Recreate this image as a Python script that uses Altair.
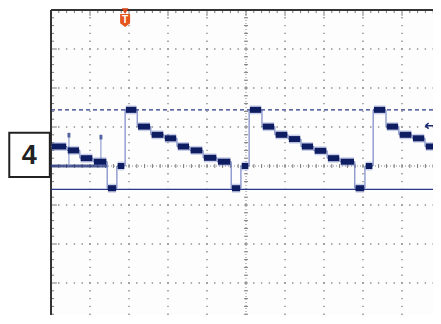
import altair as alt
import pandas as pd

# ---- data (screen units = divisions; 10 x 8 divisions, centre = 0,0) ----
step_t = [-5.00, -4.59, -4.26, -3.92, -3.56, -3.31,
          -3.10, -2.79, -2.44, -2.10, -1.77, -1.44, -1.10, -0.74, -0.38, -0.13,
          0.08, 0.41, 0.74, 1.08, 1.41, 1.74, 2.08, 2.41, 2.79, 3.05,
          3.26, 3.59, 3.92, 4.26, 4.59, 4.92]
step_v = [0.50, 0.40, 0.20, 0.11, -0.57, 0.00,
          1.44, 1.01, 0.80, 0.71, 0.50, 0.40, 0.21, 0.11, -0.57, 0.00,
          1.44, 1.01, 0.80, 0.69, 0.50, 0.39, 0.20, 0.11, -0.57, 0.00,
          1.44, 1.01, 0.80, 0.71, 0.50, 0.40]
t_end = 5.0

ghost_t = [-5.00, -3.56]
ghost_v = 0.0
spike_t = [-4.54, -3.72]
spike_v = [0.85, 0.80]

ref_dashed = 1.44
ref_solid = -0.60
trigger_t = -3.10
trigger_level = 1.03
channel_label = "4"

# visible part of the 10 x 8 division screen (39 px per division)
PX = 39.0
W, H = 382, 305
t_left, t_right = -5.0, -5.0 + W / PX
v_top, v_bottom = 4.0, 4.0 - H / PX

# ---- scales ----
xs = alt.Scale(domain=[t_left, t_right], nice=False, zero=False)
ys = alt.Scale(domain=[v_bottom, v_top], nice=False, zero=False)


def X(f="t"):
    return alt.X(f"{f}:Q", scale=xs, axis=None)


def Y(f="v"):
    return alt.Y(f"{f}:Q", scale=ys, axis=None)


# ---- graticule ----
dots = []
for gx in range(-4, 5):
    if gx == 0:
        continue
    for k in range(-19, 21):
        dots.append({"t": gx, "v": round(k * 0.2, 2)})
for gy in range(-3, 4):
    if gy == 0:
        continue
    for k in range(-25, 26):
        dots.append({"t": round(k * 0.2, 2), "v": gy})
dots_df = pd.DataFrame(dots)

ticks = []
for k in range(-25, 26):
    t = round(k * 0.2, 2)
    ticks.append({"t": t, "t2": t, "v": -0.05, "v2": 0.05})
    L = 0.15 if k % 5 == 0 else 0.08
    ticks.append({"t": t, "t2": t, "v": 4, "v2": 4 - L})
for k in range(-19, 21):
    v = round(k * 0.2, 2)
    ticks.append({"t": -0.05, "t2": 0.05, "v": v, "v2": v})
    L = 0.15 if k % 5 == 0 else 0.08
    ticks.append({"t": -5, "t2": -5 + L, "v": v, "v2": v})
ticks_df = pd.DataFrame(ticks)

grid_dots = alt.Chart(dots_df).mark_square(size=2, color="#8a8a8a", opacity=1).encode(x=X(), y=Y())
grid_ticks = alt.Chart(ticks_df).mark_rule(color="#7a7a7a", strokeWidth=1).encode(
    x=X(), x2="t2:Q", y=Y(), y2="v2:Q")
center_df = pd.DataFrame({"t": [-5, 0], "t2": [5, 0], "v": [0, v_bottom], "v2": [0, 4]})
center = alt.Chart(center_df).mark_rule(color="#8a8a8a", strokeWidth=1, strokeDash=[1, 2]).encode(
    x=X(), x2="t2:Q", y=Y(), y2="v2:Q")
frame_df = pd.DataFrame({"t": [-5, -5], "t2": [5, -5], "v": [4, 4], "v2": [4, v_bottom]})
frame = alt.Chart(frame_df).mark_rule(color="#333333", strokeWidth=2).encode(
    x=X(), x2="t2:Q", y=Y(), y2="v2:Q")

# ---- reference lines ----
ref_df_d = pd.DataFrame({"t": [-5], "t2": [5], "v": [ref_dashed]})
ref_df_s = pd.DataFrame({"t": [-5], "t2": [5], "v": [ref_solid]})
ref_d = alt.Chart(ref_df_d).mark_rule(color="#2a3888", strokeWidth=1.2, strokeDash=[4, 3]).encode(
    x=X(), x2="t2:Q", y=Y())
ref_s = alt.Chart(ref_df_s).mark_rule(color="#2a3888", strokeWidth=1.2).encode(
    x=X(), x2="t2:Q", y=Y())

# ---- ghost trace ----
ghost_df = pd.DataFrame({"t": [ghost_t[0]], "t2": [ghost_t[1]], "v": [ghost_v]})
ghost = alt.Chart(ghost_df).mark_rule(color="#24347c", strokeWidth=3, opacity=0.8).encode(
    x=X(), x2="t2:Q", y=Y())
spike_df = pd.DataFrame({"t": spike_t, "v": [ghost_v] * len(spike_t), "v2": spike_v,
                         "v3": [s - 0.12 for s in spike_v]})
spikes = alt.Chart(spike_df).mark_rule(color="#7f8cc8", strokeWidth=1).encode(
    x=X(), y=Y(), y2="v2:Q")
spike_tops = alt.Chart(spike_df).mark_rule(color="#3a4a90", strokeWidth=3, opacity=0.8).encode(
    x=X(), y=Y("v2"), y2="v3:Q")

# ---- main trace ----
line_df = pd.DataFrame({"t": step_t + [t_end], "v": step_v + [step_v[-1]]})
thin = alt.Chart(line_df).mark_line(color="#6070b8", strokeWidth=1, interpolate="step-after").encode(
    x=X(), y=Y())
seg_df = pd.DataFrame({
    "t": [s + 0.02 for s in step_t],
    "t2": [e - 0.02 for e in step_t[1:] + [t_end + 0.02]],
    "v": step_v,
})
halo = alt.Chart(seg_df).mark_rule(color="#6a7ac4", strokeWidth=9, opacity=0.35).encode(
    x=X(), x2="t2:Q", y=Y())
core = alt.Chart(seg_df).mark_rule(color="#0e1c62", strokeWidth=6).encode(
    x=X(), x2="t2:Q", y=Y())

# ---- markers ----
trig_df = pd.DataFrame({"t": [trigger_t], "v": [3.97], "v_s": [3.73], "lab": ["T"]})
trig_tri = alt.Chart(trig_df).mark_point(shape="triangle-down", filled=True, size=45,
                                         color="#d8441a", opacity=1).encode(x=X(), y=Y())
shield = "M-1,-1.3 L1,-1.3 L1,0.55 L0,1.3 L-1,0.55 Z"
trig_shield = alt.Chart(trig_df).mark_point(shape=shield, filled=True, size=100,
                                            color="#e4561e", opacity=1).encode(x=X(), y=Y("v_s"))
trig_text = alt.Chart(trig_df).mark_text(color="white", fontWeight="bold", fontSize=10,
                                         font="Liberation Sans", baseline="middle", dy=-1).encode(
    x=X(), y=Y("v_s"), text="lab:N")

arrow = "M-1,0 L-0.3,-0.6 M-1,0 L-0.3,0.6 M-1,0 L1,0"
lvl_df = pd.DataFrame({"t": [4.72], "v": [trigger_level]})
lvl = alt.Chart(lvl_df).mark_point(shape=arrow, filled=False, size=90, strokeWidth=1.5,
                                   color="#1a2a70", opacity=1, clip=False).encode(x=X(), y=Y())

box_df = pd.DataFrame({"t": [-6.07], "t2": [-5.03], "v": [0.85], "v2": [-0.28],
                       "tc": [-5.56], "vc": [0.25], "lab": [channel_label]})
box = alt.Chart(box_df).mark_rect(fill="white", stroke="#222222", strokeWidth=2, clip=False).encode(
    x=X(), x2="t2:Q", y=Y(), y2="v2:Q")
box_text = alt.Chart(box_df).mark_text(font="Liberation Sans", fontWeight="bold", fontSize=27,
                                       color="#222222", baseline="middle", clip=False).encode(
    x=X("tc"), y=Y("vc"), text="lab:N")

chart = alt.layer(
    grid_dots, center, grid_ticks, frame, ref_d, ref_s, ghost, spikes, spike_tops,
    thin, halo, core, trig_tri, trig_shield, trig_text, lvl, box, box_text
).properties(
    width=W, height=H,
    autosize=alt.AutoSizeParams(type="none"),
    padding={"left": 43, "top": 2, "right": 0, "bottom": 0},
    background="white",
).configure_view(stroke=None, fill="#fdfdfd")

chart.save("out.html", embed_options={"renderer": "svg", "actions": False})
